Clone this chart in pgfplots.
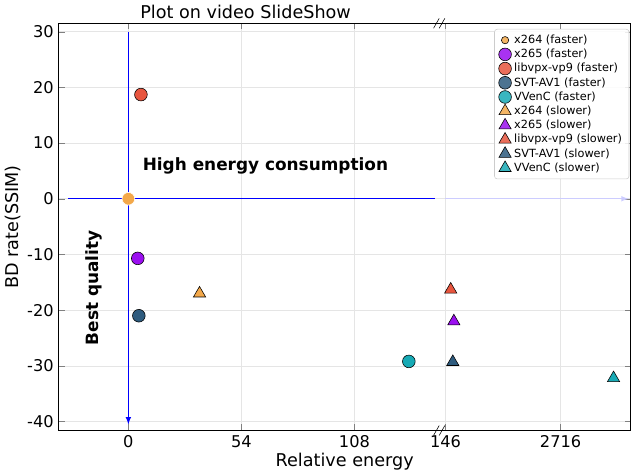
\documentclass[border=0pt]{standalone}
\usepackage{pgfplots}
\pgfplotsset{compat=1.18}
\usepackage{fontspec}
\setmainfont{DejaVu Sans}
\definecolor{cA}{HTML}{F3A84A}
\definecolor{cB}{HTML}{9B0FF0}
\definecolor{cC}{HTML}{E8553E}
\definecolor{cD}{HTML}{2E5B7E}
\definecolor{cE}{HTML}{17AAB5}
\begin{document}
\begin{tikzpicture}
\begin{axis}[
  scale only axis, width=406pt, height=289pt,
  xmin=-33.3, xmax=240, ymin=-41.6, ymax=31.5,
  xtick={0,54,108,151.5,206.5}, xticklabels={0,54,108,146,2716},
  ytick={-40,-30,-20,-10,0,10,20,30},
  yticklabels={-40,-30,-20,-10,0,10,20,30},
  /pgf/number format/assume math mode=true,
  ticklabel style={font=\fontsize{11.5}{13}\selectfont},
  grid=major, grid style={gray!20},
  xlabel={Relative energy}, ylabel={BD rate(SSIM)},
  label style={font=\fontsize{12.5}{14}\selectfont},
  xlabel style={yshift=3pt}, ylabel style={yshift=-2pt},
  legend style={at={(1,1)}, anchor=north east, xshift=-1pt, yshift=-4pt, font=\fontsize{8}{9.5}\selectfont, draw=gray!40, rounded corners=2pt, row sep=-1.5pt, fill=white, fill opacity=0.85, text opacity=1},
  legend cell align=left,
  clip=false,
]
\addlegendimage{only marks, mark=*, mark size=2.6pt, draw=none, fill=cA}\addlegendentry{x264 (faster)}
\addplot[only marks, mark=*, mark size=4.5pt, draw=none, fill=cB] coordinates {(4.5,-10.7)};\addlegendentry{x265 (faster)}
\addplot[only marks, mark=*, mark size=4.5pt, draw=none, fill=cC] coordinates {(6,18.7)};\addlegendentry{libvpx-vp9 (faster)}
\addplot[only marks, mark=*, mark size=4.5pt, draw=none, fill=cD] coordinates {(5,-21)};\addlegendentry{SVT-AV1 (faster)}
\addplot[only marks, mark=*, mark size=4.5pt, draw=none, fill=cE] coordinates {(134,-29.2)};\addlegendentry{VVenC (faster)}
\addplot[only marks, mark=triangle*, mark size=5pt, draw=none, fill=cA] coordinates {(34,-17)};\addlegendentry{x264 (slower)}
\addplot[only marks, mark=triangle*, mark size=5pt, draw=none, fill=cB] coordinates {(155.5,-22)};\addlegendentry{x265 (slower)}
\addplot[only marks, mark=triangle*, mark size=5pt, draw=none, fill=cC] coordinates {(154,-16.3)};\addlegendentry{libvpx-vp9 (slower)}
\addplot[only marks, mark=triangle*, mark size=5pt, draw=none, fill=cD] coordinates {(155,-29.3)};\addlegendentry{SVT-AV1 (slower)}
\addplot[only marks, mark=triangle*, mark size=5pt, draw=none, fill=cE] coordinates {(231.8,-32.2)};\addlegendentry{VVenC (slower)}
\draw[blue, thick] (axis cs:-28.8,0) -- (axis cs:146.5,0);
\draw[blue!20, thick, -latex] (axis cs:151.5,0) -- (axis cs:239,0);
\draw[blue, thick, -latex] (axis cs:0,30) -- (axis cs:0,-40.5);
\addplot[only marks, mark=*, mark size=4.5pt, draw=white, fill=cA, forget plot] coordinates {(0,0)};
\node[font=\bfseries\fontsize{12}{14}\selectfont, anchor=west] at (axis cs:4.5,5.9) {High energy consumption};
\node[font=\bfseries\fontsize{12}{14}\selectfont, rotate=90] at (axis cs:-16.5,-16) {Best quality};
\node[font=\fontsize{12.5}{14}\selectfont, anchor=south] at (axis cs:56,31.5) {Plot on video SlideShow};
\draw ([xshift=-4pt,yshift=-3.5pt]axis cs:148.5,31.5) -- ([yshift=3.5pt]axis cs:148.5,31.5);
\draw ([yshift=-3.5pt]axis cs:148.5,31.5) -- ([xshift=4pt,yshift=3.5pt]axis cs:148.5,31.5);
\draw ([xshift=-4pt,yshift=-3.5pt]axis cs:148.5,-41.6) -- ([yshift=3.5pt]axis cs:148.5,-41.6);
\draw ([yshift=-3.5pt]axis cs:148.5,-41.6) -- ([xshift=4pt,yshift=3.5pt]axis cs:148.5,-41.6);
\end{axis}
\end{tikzpicture}
\end{document}
